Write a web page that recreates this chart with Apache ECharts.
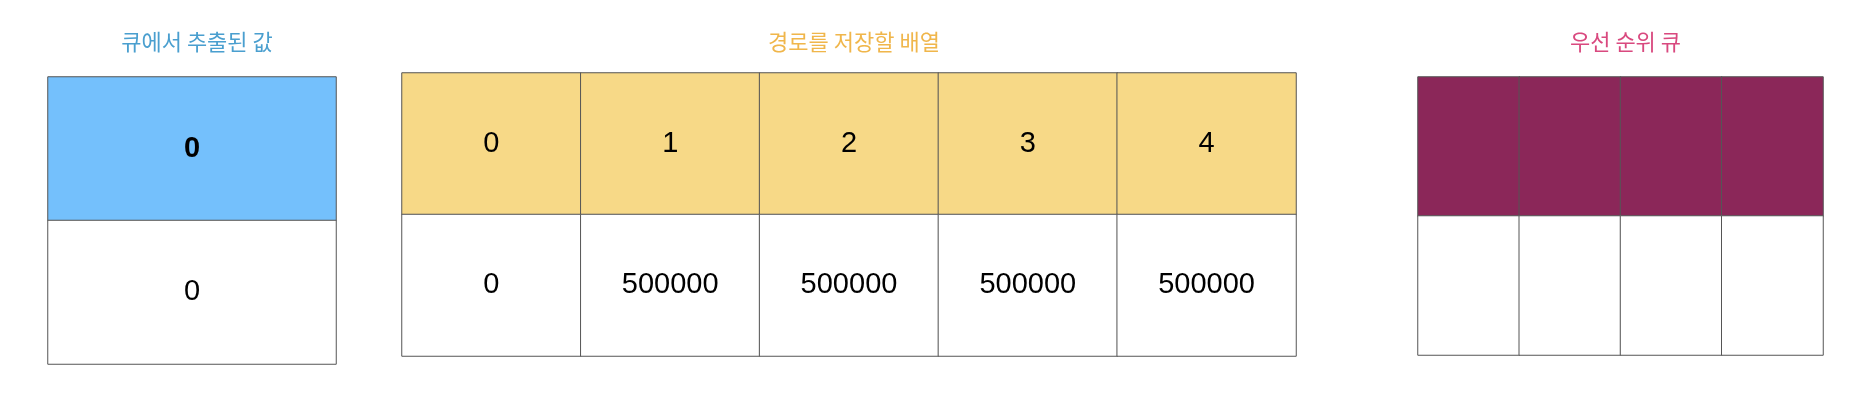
<!DOCTYPE html>
<html lang="ko">
  <head>
    <meta charset="UTF-8" />
    <title>dijkstra step</title>
    <style>
      body, html { margin: 0; width: 100%; height: 100%; background: #fff; }
    </style>
  </head>
  <body>
    <div id="main" style="width:1874px;height:405px;"></div>
    <script src="https://cdn.jsdelivr.net/npm/echarts@6/dist/echarts.min.js"></script>
    <script>
      const titles = ['큐에서 추출된 값', '경로를 저장할 배열', '우선 순위 큐'];
      const popHeader = ['0'];
      const popValue = ['0'];
      const pathHeader = ['0', '1', '2', '3', '4'];
      const pathValue = ['0', '500000', '500000', '500000', '500000'];
      const queueHeader = ['', '', '', ''];
      const queueValue = ['', '', '', ''];

      const grids = [
        { left: 48, top: 77, width: 288, height: 287 },
        { left: 402, top: 73, width: 894, height: 283 },
        { left: 1418, top: 77, width: 405, height: 278 },
      ];
      const tables = [
        { head: popHeader, body: popValue, color: '#74C0FC', bold: true },
        { head: pathHeader, body: pathValue, color: '#F7D987', bold: false },
        { head: queueHeader, body: queueValue, color: '#8B2759', bold: false },
      ];
      const titleColors = ['#4A9FCF', '#F0B64B', '#D9497F'];
      const font = 'Liberation Sans, Arial, sans-serif';

      const chart = echarts.init(document.getElementById('main'));
      const option = {
        animation: false,
        title: titles.map((t, i) => ({
          text: t,
          left: grids[i].left + grids[i].width / 2,
          top: 26,
          textAlign: 'center',
          textStyle: { color: titleColors[i], fontSize: 22, fontWeight: 'normal', fontFamily: 'Noto Sans CJK KR' },
        })),
        grid: grids,
        xAxis: tables.map((t, i) => ({
          type: 'category', gridIndex: i, data: t.head.map((_, j) => j),
          show: false,
        })),
        yAxis: tables.map((t, i) => ({
          type: 'category', gridIndex: i, data: ['head', 'body'], inverse: true,
          show: false,
        })),
        series: tables.map((t, i) => ({
          type: 'heatmap',
          xAxisIndex: i,
          yAxisIndex: i,
          data: t.head.map((h, j) => ({
            value: [j, 0, 1], name: h,
            itemStyle: { color: t.color },
            label: { fontWeight: (i === 0) ? 'bold' : 'normal' },
          })).concat(t.body.map((b, j) => ({
            value: [j, 1, 0], name: b,
            itemStyle: { color: '#ffffff' },
          }))),
          itemStyle: { borderColor: '#555', borderWidth: 1 },
          label: {
            show: true,
            formatter: p => p.name,
            fontSize: 29,
            color: '#000',
            fontFamily: font,
          },
          emphasis: { disabled: true },
        })),
      };
      chart.setOption(option);
    </script>
  </body>
</html>
